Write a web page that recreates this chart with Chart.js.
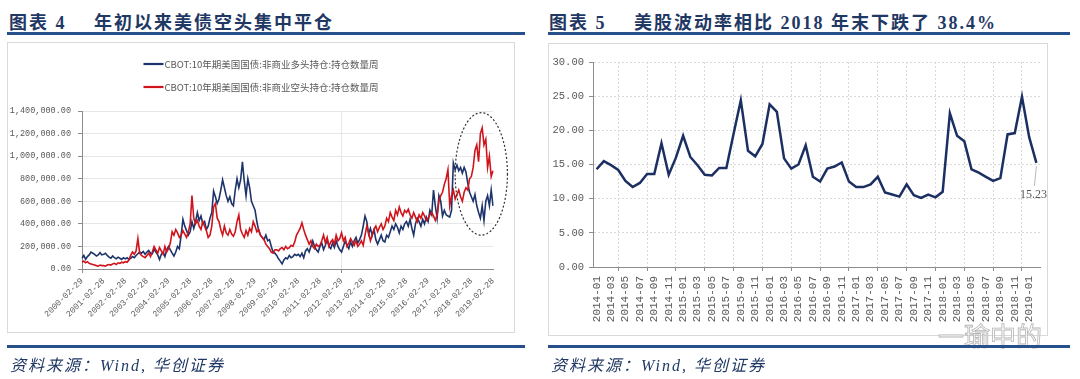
<!DOCTYPE html>
<html lang="zh-CN">
<head>
<meta charset="utf-8">
<title>美债持仓与美股波动率</title>
<script src="https://cdn.jsdelivr.net/npm/chart.js@4.4.1/dist/chart.umd.min.js"></script>
<style>
  html, body { margin: 0; padding: 0; background: #fff; }
  body { position: relative; width: 1080px; height: 379px; overflow: hidden; }
  .cap { position: absolute; top: 8px; line-height: 18px; font: 700 18px "Liberation Serif", "Noto Sans CJK SC", serif; color: #1f3864; white-space: nowrap; letter-spacing: 2px; }
  .rule { position: absolute; height: 3px; background: #25508c; }
  .frame { position: absolute; }
  .frame canvas { display: block; }
  .edge { position: absolute; border: 1px solid #d9d9d9; box-sizing: border-box; }
  .src { position: absolute; top: 352px; line-height: 20px; font: italic 16px "Liberation Serif", "Noto Sans CJK SC", serif; color: #1f3864; white-space: nowrap; letter-spacing: 2px; }
  .mark { position: absolute; left: 938px; top: 316px; font: 26px "Noto Sans CJK SC"; color: rgba(255,255,255,0.6); -webkit-text-stroke: 0.8px #b5b5b5; white-space: nowrap; }
</style>
</head>
<body>
<div class="cap" style="left:9px">图表 4</div>
<div class="cap" style="left:94px">年初以来美债空头集中平仓</div>
<div class="rule" style="left:7px; top:32px; width:518px"></div>
<div class="cap" style="left:549px">图表 5</div>
<div class="cap" style="left:634px">美股波动率相比 2018 年末下跌了 38.4%</div>
<div class="rule" style="left:548px; top:32px; width:522px"></div>

<div class="frame" style="left:7px; top:42px"><canvas id="bondChart" width="508" height="291"></canvas></div>
<div class="edge" style="left:7px; top:42px; width:508px; height:291px"></div>
<div class="frame" style="left:548px; top:43px"><canvas id="volChart" width="500" height="293"></canvas></div>
<div class="edge" style="left:548px; top:43px; width:500px; height:293px"></div>
<div class="mark">一瑜中的</div>

<div class="rule" style="left:7px; top:345px; width:518px"></div>
<div class="rule" style="left:548px; top:345px; width:522px"></div>
<div class="src" style="left:10px">资料来源：Wind, 华创证券</div>
<div class="src" style="left:551px">资料来源：Wind, 华创证券</div>

<script>
'use strict';

Chart.defaults.font.family = '"Liberation Mono", monospace';
Chart.defaults.color = '#595959';

// ---- 图表4：CBOT 10年期美债非商业持仓（千张，按月取样，2000-02 至 2019-02）
const positionMonths = [];
for (let y = 2000; y <= 2019; y++) {
  for (let m = 1; m <= 12; m++) {
    if ((y === 2000 && m < 2) || (y === 2019 && m > 2)) continue;
    positionMonths.push(y + '-' + String(m).padStart(2, '0'));
  }
}

const yearTicks = [
  '2000-02-29', '2001-02-28', '2002-02-28', '2003-02-28', '2004-02-29',
  '2005-02-28', '2006-02-28', '2007-02-28', '2008-02-29', '2009-02-28',
  '2010-02-28', '2011-02-28', '2012-02-29', '2013-02-28', '2014-02-28',
  '2015-02-28', '2016-02-29', '2017-02-28', '2018-02-28', '2019-02-28',
];

// 多头持仓（千张），每行 = 当年2月 ~ 次年1月
const longK = [
  95, 120, 85, 110, 125, 150, 140, 130, 115, 125, 145, 125,
  130, 140, 120, 105, 95, 115, 100, 90, 105, 95, 85, 100,
  90, 100, 85, 95, 110, 100, 120, 135, 150, 140, 155, 130,
  150, 165, 140, 135, 175, 150, 125, 85, 130, 150, 110, 170,
  200, 170, 140, 115, 150, 200, 180, 300, 440, 380, 340, 300,
  330, 420, 360, 420, 500, 430, 470, 400, 420, 350, 380, 450,
  500, 690, 640, 580, 620, 700, 790, 720, 650, 600, 640, 580,
  560, 700, 800, 720, 790, 950, 780, 650, 800, 720, 600, 560,
  520, 420, 340, 300, 280, 260, 300, 250, 260, 200, 150, 140,
  120, 90, 70, 45, 80, 100, 90, 120, 100, 110, 130, 120,
  130, 110, 140, 100, 160, 180, 150, 200, 250, 200, 170, 150,
  200, 230, 170, 210, 260, 200, 180, 230, 190, 250, 200, 170,
  150, 200, 250, 210, 180, 240, 200, 250, 280, 230, 260, 300,
  380, 470, 420, 310, 360, 300, 350, 260, 220, 260, 300, 250,
  240, 300, 280, 330, 380, 350, 400, 370, 320, 380, 350, 400,
  420, 380, 440, 360, 300, 400, 450, 420, 380, 440, 400, 460,
  420, 520, 480, 700, 560, 450, 650, 600, 470, 520, 480, 470,
  460, 520, 940, 880, 920, 870, 900, 850, 900, 860, 760, 680,
  640, 600, 660, 560, 500, 450, 560, 430, 600, 650, 560, 700,
  560,
];

// 空头持仓（千张）
const shortK = [
  60, 70, 55, 65, 50, 45, 40, 35, 30, 25, 35, 30,
  30, 25, 35, 40, 35, 45, 50, 40, 55, 50, 60, 55,
  65, 60, 80, 120, 150, 130, 160, 270, 140, 120, 110, 100,
  120, 140, 110, 150, 200, 170, 140, 190, 160, 130, 200, 150,
  180, 230, 330, 300, 350, 320, 280, 300, 340, 310, 280, 330,
  400, 650, 450, 400, 430, 380, 350, 420, 380, 340, 280, 300,
  380, 550, 580, 450, 420, 350, 300, 380, 320, 300, 350, 310,
  290, 330, 420, 480, 350, 310, 280, 340, 300, 360, 330, 420,
  380, 330, 350, 300, 280, 260, 220, 200, 180, 150, 140, 170,
  170, 160, 180, 190, 170, 200, 180, 190, 210, 200, 240, 300,
  330, 360, 410, 350, 300, 260, 220, 250, 200, 180, 220, 200,
  210, 250, 300, 230, 280, 200, 240, 260, 220, 300, 250, 270,
  320, 250, 280, 200, 230, 270, 240, 210, 250, 200, 220, 250,
  210, 300, 380, 320, 250, 300, 350, 380, 330, 370, 400, 350,
  380, 450, 420, 500, 460, 430, 520, 480, 550, 500, 470, 520,
  500, 530, 480, 450, 500, 460, 420, 480, 450, 500, 470, 430,
  450, 480, 500, 470, 430, 480, 600, 650, 680, 750, 800, 880,
  560, 650, 700, 620, 660, 700, 640, 600, 680, 720, 700, 800,
  820, 900, 1050, 1100, 950, 1200, 1250, 1100, 1150, 900, 1000, 820,
  870,
];

// 虚线圈：月份序号与持仓区间（千张）
const ring = { from: 207, to: 236, low: 300, high: 1385 };

// ---- 图表5：美股波动率（月度）
const volMonths = [];
for (let y = 2014; y <= 2019; y++) {
  for (let m = 1; m <= 12; m++) {
    if (y === 2019 && m > 2) break;
    volMonths.push(y + '-' + String(m).padStart(2, '0'));
  }
}

const volatility = [
  14.3, 15.5, 14.9, 14.2, 12.6, 11.7, 12.3, 13.6, 13.6, 18.1, 13.5, 16.0,
  19.2, 16.1, 14.9, 13.5, 13.4, 14.5, 14.5, 19.5, 24.4, 17.0, 16.2, 18.0,
  23.8, 22.7, 15.9, 14.4, 15.0, 17.8, 13.2, 12.5, 14.4, 14.7, 15.3, 12.5,
  11.7, 11.7, 12.1, 13.2, 10.9, 10.6, 10.3, 12.1, 10.5, 10.1, 10.6, 10.2,
  11.0, 22.5, 19.2, 18.4, 14.3, 13.8, 13.2, 12.6, 13.0, 19.4, 19.6, 24.9,
  19.0, 15.23,
];

// legend stacked in two rows, centred above the plot
const stackedLegend = {
  id: 'stackedLegend',
  afterDraw(chart) {
    const ctx = chart.ctx;
    ctx.save();
    ctx.font = '9.5px "Noto Sans CJK SC"';
    ctx.textBaseline = 'middle';
    const widths = chart.data.datasets.map(ds => ctx.measureText(ds.label).width);
    const x = (chart.width - (21 + Math.max(...widths))) / 2;
    chart.data.datasets.forEach((ds, i) => {
      const y = 22 + i * 23;
      ctx.strokeStyle = ds.borderColor;
      ctx.lineWidth = 2.2;
      ctx.beginPath();
      ctx.moveTo(x, y);
      ctx.lineTo(x + 20, y);
      ctx.stroke();
      ctx.fillStyle = '#595959';
      ctx.fillText(ds.label, x + 21, y);
    });
    ctx.restore();
  },
};

const dottedRing = {
  id: 'dottedRing',
  afterDatasetsDraw(chart) {
    const { x, y } = chart.scales;
    const x1 = x.getPixelForValue(ring.from), x2 = x.getPixelForValue(ring.to);
    const y1 = y.getPixelForValue(ring.high), y2 = y.getPixelForValue(ring.low);
    const ctx = chart.ctx;
    ctx.save();
    ctx.setLineDash([2, 2]);
    ctx.strokeStyle = '#333';
    ctx.lineWidth = 1.2;
    ctx.beginPath();
    ctx.ellipse((x1 + x2) / 2, (y1 + y2) / 2, (x2 - x1) / 2, (y2 - y1) / 2, 0, 0, Math.PI * 2);
    ctx.stroke();
    ctx.restore();
  },
};

const endLabel = {
  id: 'endLabel',
  afterDatasetsDraw(chart) {
    const meta = chart.getDatasetMeta(0);
    const last = meta.data.length - 1;
    const pt = meta.data[last];
    const ctx = chart.ctx;
    ctx.save();
    ctx.strokeStyle = '#a6a6a6';
    ctx.lineWidth = 0.8;
    ctx.beginPath();
    ctx.moveTo(pt.x, pt.y + 3);
    ctx.lineTo(pt.x - 2, pt.y + 23);
    ctx.stroke();
    ctx.fillStyle = '#595959';
    ctx.font = '12px "Liberation Serif"';
    ctx.textAlign = 'center';
    ctx.textBaseline = 'middle';
    ctx.fillText(chart.data.datasets[0].data[last].toFixed(2), pt.x - 3, pt.y + 32);
    ctx.restore();
  },
};

function renderBondChart() {
  const isYearTick = i => i % 12 === 0;
  new Chart(document.getElementById('bondChart'), {
    type: 'line',
    data: {
      labels: positionMonths,
      datasets: [
        {
          label: 'CBOT:10年期美国国债:非商业多头持仓:持仓数量周',
          data: longK,
          borderColor: '#1d336b',
          borderWidth: 1.6,
          pointRadius: 0,
          order: 1,
        },
        {
          label: 'CBOT:10年期美国国债:非商业空头持仓:持仓数量周',
          data: shortK,
          borderColor: '#d0141c',
          borderWidth: 1.6,
          pointRadius: 0,
          order: 0,
        },
      ],
    },
    options: {
      responsive: false,
      animation: false,
      layout: { padding: { top: 69, right: 22, left: 0, bottom: 0 } },
      plugins: { legend: { display: false }, tooltip: { enabled: false } },
      scales: {
        x: {
          offset: false,
          grid: {
            color: c => isYearTick(c.index) ? '#e6e6e6' : 'transparent',
            tickColor: c => isYearTick(c.index) ? '#8c8c8c' : 'transparent',
            tickLength: 4,
          },
          border: { color: '#8c8c8c' },
          ticks: {
            autoSkip: false,
            minRotation: 45,
            maxRotation: 45,
            padding: 3,
            font: { size: 8.5 },
            callback: (v, i) => isYearTick(i) ? yearTicks[i / 12] : null,
          },
          afterFit: s => { s.height = 64; },
        },
        y: {
          min: 0,
          max: 1400,
          grid: { color: '#e6e6e6', tickColor: '#8c8c8c', tickLength: 4 },
          border: { color: '#8c8c8c' },
          ticks: {
            stepSize: 200,
            padding: 7,
            font: { size: 8.5 },
            callback: v => (v * 1000).toLocaleString('en-US', { minimumFractionDigits: 2, maximumFractionDigits: 2 }),
          },
          afterFit: s => { s.width = 75; },
        },
      },
    },
    plugins: [stackedLegend, dottedRing],
  });
}

function renderVolChart() {
  const even = i => i % 2 === 0;
  new Chart(document.getElementById('volChart'), {
    type: 'line',
    data: {
      labels: volMonths,
      datasets: [{
        label: '美股波动率',
        data: volatility,
        borderColor: '#1c2f63',
        borderWidth: 2.5,
        pointRadius: 0,
      }],
    },
    options: {
      responsive: false,
      animation: false,
      layout: { padding: { top: 19, right: 8, left: 0, bottom: 0 } },
      plugins: { legend: { display: false }, tooltip: { enabled: false } },
      scales: {
        x: {
          offset: true,
          grid: {
            offset: true,
            color: c => even(c.index) ? '#d9d9d9' : 'transparent',
            tickColor: c => even(c.index) ? '#8c8c8c' : 'transparent',
            tickLength: 4,
          },
          border: { color: '#8c8c8c', dash: [2, 2] },
          ticks: {
            autoSkip: false,
            minRotation: 90,
            maxRotation: 90,
            padding: 5,
            font: { size: 11 },
            callback: (v, i) => even(i) ? volMonths[i] : null,
          },
          afterFit: s => { s.height = 69; },
        },
        y: {
          min: 0,
          max: 30,
          grid: { color: '#d9d9d9', tickColor: '#8c8c8c', tickLength: 4 },
          border: { color: '#8c8c8c', dash: [2, 2] },
          ticks: {
            stepSize: 5,
            padding: 5,
            font: { size: 10.5 },
            callback: v => v.toFixed(2),
          },
          afterFit: s => { s.width = 45; },
        },
      },
    },
    plugins: [endLabel],
  });
}

renderBondChart();
renderVolChart();
</script>
</body>
</html>
